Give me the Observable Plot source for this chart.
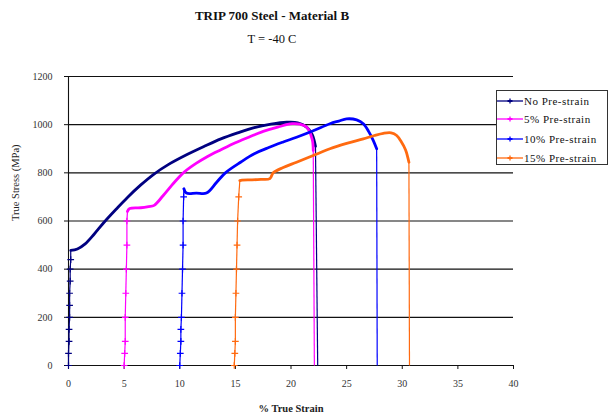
<!DOCTYPE html>
<html><head><meta charset="utf-8">
<script src="https://cdn.jsdelivr.net/npm/d3@7"></script>
<script src="https://cdn.jsdelivr.net/npm/@observablehq/plot@0.6"></script>
<style>
body{margin:0;background:#fff;}
#wrap{position:relative;width:612px;height:416px;font-family:"Liberation Serif","Times New Roman",serif;}
#legend{position:absolute;left:496px;top:90px;width:112px;height:75px;border:1.5px solid #333;background:#fff;box-sizing:border-box;}
.row{position:absolute;left:0;height:14px;display:flex;align-items:center;font-size:11px;letter-spacing:0.5px;color:#111;white-space:nowrap;}
.row svg{margin-right:1px;}
</style></head>
<body><div id="wrap"></div>
<script>
const seriesNames = ["No Pre-strain", "5% Pre-strain", "10% Pre-strain", "15% Pre-strain"];
const seriesColors = ["#000080", "#ff00ff", "#0000ff", "#ff6a10"];
const xTicks = [0, 5, 10, 15, 20, 25, 30, 35, 40];
const yTicks = [0, 200, 400, 600, 800, 1000, 1200];

// [strain %, true stress MPa]
const noPreStrain = [[0,0],[0,50],[0.05,100],[0.05,150],[0.1,200],[0.1,250],[0.1,300],[0.15,350],[0.15,400],[0.2,440],[0.2,478],
  [0.8,484],[1.5,505],[2.3,545],[3.2,595],[4.3,650],[5.3,698],[6.5,750],[7.6,792],[9,835],[10.7,877],[12.2,910],[13.7,941],[15.2,966],[16.7,988],[18.2,1002],[19.6,1010],[20.6,1008],[21.4,990],[21.9,960],[22.2,910],
  [22.4,0]];
const pre5 = [[5.0,0],[5.05,50],[5.1,100],[5.1,200],[5.15,300],[5.2,400],[5.25,500],[5.25,600],[5.3,640],
  [5.5,652],[6.5,655],[7.2,660],[7.7,665],[8.5,705],[9.5,760],[10.4,803],[11.5,840],[12.5,868],[13.7,896],[15,925],[16.2,948],[17.5,972],[18.8,990],[20.1,1004],[20.8,1002],[21.4,990],[21.9,940],[22.0,893],
  [22.1,0]];
const pre10 = [[10.0,0],[10.05,50],[10.1,100],[10.1,150],[10.15,200],[10.2,300],[10.25,400],[10.3,500],[10.3,600],[10.35,700],[10.37,734],
  [10.6,716],[11.5,716],[12.4,716],[13.3,760],[14.1,800],[15.5,845],[16.7,879],[18,905],[19.3,928],[20.5,948],[22,975],[23.5,1004],[24.3,1015],[25.0,1024],[25.9,1020],[26.5,1004],[27.0,970],[27.4,934],[27.7,900],
  [27.75,0]];
const pre15 = [[14.9,0],[14.95,50],[15,100],[15,200],[15.05,300],[15.1,400],[15.15,500],[15.2,600],[15.3,700],[15.4,768],
  [15.6,770],[16.5,771],[17.3,773],[18.1,776],[18.4,800],[19.3,822],[20.5,844],[22,872],[23.5,900],[25,922],[26.5,941],[27.5,955],[28.3,964],[29.0,966],[29.5,955],[29.9,930],[30.3,895],[30.6,844],
  [30.65,0]];
const seriesData = [noPreStrain, pre5, pre10, pre15];

// split each curve: thin steep rise (with markers), thick dense flow curve, thin final drop
const thinSegs = [], risePts = [], flowPts = [];
seriesData.forEach((pts, si) => {
  const s = seriesNames[si];
  let k = 0;
  while (k < pts.length - 1 && Math.abs(pts[k + 1][1] - pts[k][1]) > 300 * Math.abs(pts[k + 1][0] - pts[k][0])) k++;
  for (let i = 0; i < k; i++) {
    thinSegs.push({series: s, x1: pts[i][0], y1: pts[i][1], x2: pts[i + 1][0], y2: pts[i + 1][1]});
    risePts.push({series: s, x: pts[i][0], y: pts[i][1]});
  }
  const last = pts.length - 1;
  for (let i = k; i < last; i++) flowPts.push({series: s, x: pts[i][0], y: pts[i][1]});
  thinSegs.push({series: s, x1: pts[last - 1][0], y1: pts[last - 1][1], x2: pts[last][0], y2: pts[last][1]});
});

const chart = Plot.plot({
  width: 612, height: 416,
  marginLeft: 68, marginRight: 99, marginTop: 76, marginBottom: 51,
  style: {fontFamily: "'Liberation Serif', 'Times New Roman', serif", fontSize: "10px", color: "#222", background: "transparent"},
  x: {domain: [0, 40], label: null},
  y: {domain: [0, 1200], label: null},
  color: {domain: seriesNames, range: seriesColors},
  marks: [
    Plot.ruleY(yTicks, {stroke: "#111", strokeWidth: 1.1}),
    Plot.ruleX([0], {stroke: "#111", strokeWidth: 1.1}),
    Plot.axisX({ticks: xTicks, tickFormat: d => String(d), tickSize: 4, tickPadding: 10, stroke: "#111", fill: "#333"}),
    Plot.axisY({ticks: yTicks, tickFormat: d => String(d), tickSize: 4, tickPadding: 12, stroke: "#111", fill: "#333"}),
    Plot.link(thinSegs, {x1: "x1", y1: "y1", x2: "x2", y2: "y2", stroke: "series", strokeWidth: 1.2}),
    Plot.line(flowPts, {x: "x", y: "y", z: "series", stroke: "series", strokeWidth: 2.8, curve: "catmull-rom", strokeLinejoin: "round", strokeLinecap: "round"}),
    Plot.dot(risePts, {x: "x", y: "y", stroke: "series", symbol: "plus", r: 2.3, strokeWidth: 1.2}),
    Plot.text(["TRIP 700 Steel - Material B"], {frameAnchor: "top", dx: -19, dy: -61, fontSize: 13, fontWeight: "bold", fill: "#111", lineAnchor: "middle"}),
    Plot.text(["T = -40 C"], {frameAnchor: "top", dx: -19, dy: -38, fontSize: 12.5, fill: "#111", lineAnchor: "middle"}),
    Plot.text(["% True Strain"], {frameAnchor: "bottom", dy: 43, fontSize: 10.5, fontWeight: "bold", fill: "#222", lineAnchor: "middle"}),
    Plot.text(["True Stress (MPa)"], {frameAnchor: "left", dx: -53, rotate: -90, fontSize: 10.5, fill: "#222", lineAnchor: "middle"})
  ]
});
chart.style.position = "absolute";
chart.style.left = "0";
chart.style.top = "0";
const wrap = document.getElementById("wrap");
wrap.appendChild(chart);

const legend = document.createElement("div");
legend.id = "legend";
const rowTops = [3, 21, 41, 60];
seriesNames.forEach((name, i) => {
  const row = document.createElement("div");
  row.className = "row";
  row.style.top = rowTops[i] + "px";
  row.innerHTML = `<svg width="26" height="10"><line x1="0" y1="5" x2="26" y2="5" stroke="${seriesColors[i]}" stroke-width="1.3"/><line x1="13" y1="2.5" x2="13" y2="7.5" stroke="${seriesColors[i]}" stroke-width="1.3"/><line x1="10.5" y1="5" x2="15.5" y2="5" stroke="${seriesColors[i]}" stroke-width="2"/></svg><span>${name}</span>`;
  legend.appendChild(row);
});
wrap.appendChild(legend);
</script>
</body></html>
